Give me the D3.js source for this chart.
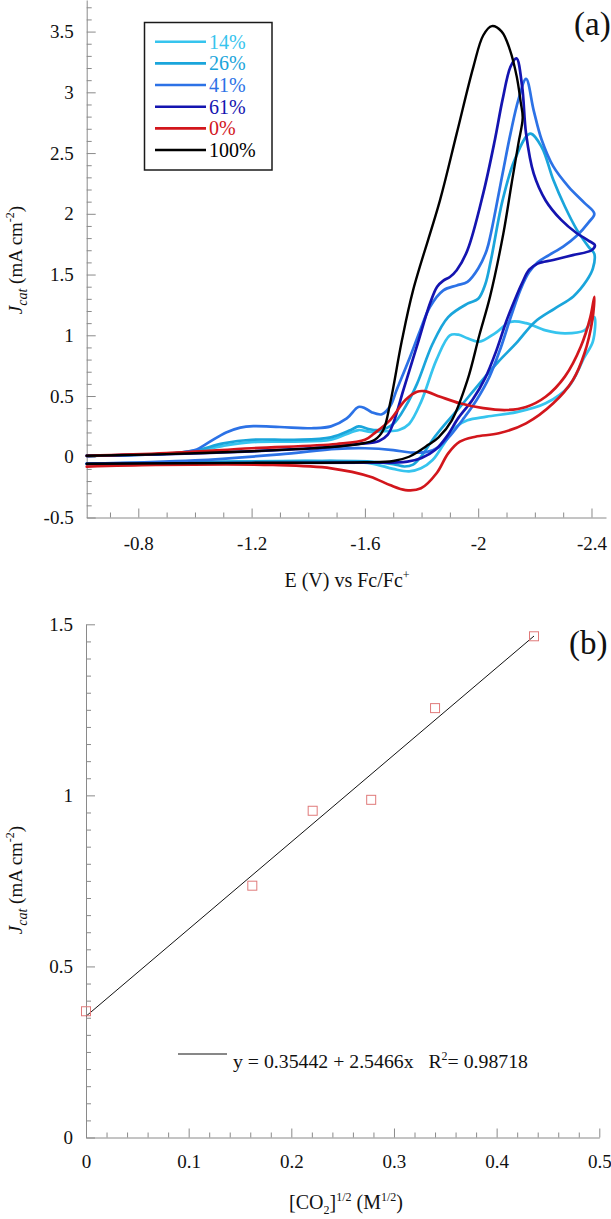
<!DOCTYPE html>
<html><head><meta charset="utf-8">
<script src="https://cdn.jsdelivr.net/npm/d3@7"></script>
<style>
body{margin:0;background:#fff;}
svg{display:block;}
svg text{font-family:"Liberation Serif","Times New Roman",Times,serif !important;}
</style></head><body>
<svg id="c" width="611" height="1219"></svg>
<script>
// ---------- Panel (a) data: cyclic voltammograms [E (V), J (mA cm-2)] ----------
const seriesNames  = ["14%","26%","41%","61%","0%","100%"];
const seriesColors = ["#36c4ee","#1aa5db","#2c72e6","#1414b0","#d2161c","#000000"];

const cv14 = [[-0.618,0.008],[-0.9,0.025],[-1.0,0.045],[-1.1,0.09],[-1.2,0.12],[-1.35,0.125],[-1.48,0.14],[-1.55,0.2],[-1.578,0.22],[-1.62,0.205],[-1.67,0.21],[-1.72,0.22],[-1.756,0.27],[-1.798,0.45],[-1.853,0.80],[-1.90,1.0],[-1.93,1.005],[-1.962,0.975],[-2.004,0.947],[-2.059,1.016],[-2.114,1.11],[-2.169,1.10],[-2.238,1.04],[-2.306,1.016],[-2.375,1.04],[-2.41,1.15],
  [-2.405,0.95],[-2.375,0.82],[-2.32,0.58],[-2.238,0.44],[-2.14,0.37],[-2.03,0.33],[-1.962,0.30],[-1.922,0.247],[-1.88,0.11],[-1.839,-0.027],[-1.798,-0.095],[-1.756,-0.12],[-1.70,-0.10],[-1.62,-0.054],[-1.45,-0.035],[-1.0,-0.045],[-0.618,-0.058]];

const cv26 = [[-0.618,0.008],[-0.9,0.025],[-1.0,0.05],[-1.1,0.11],[-1.2,0.14],[-1.35,0.14],[-1.48,0.16],[-1.55,0.22],[-1.578,0.25],[-1.61,0.23],[-1.65,0.22],[-1.70,0.27],[-1.745,0.42],[-1.784,0.60],[-1.839,0.93],[-1.894,1.15],[-1.962,1.26],[-2.0,1.30],[-2.025,1.42],[-2.045,1.62],[-2.086,2.11],[-2.128,2.44],[-2.183,2.66],[-2.224,2.55],[-2.265,2.28],[-2.306,2.06],[-2.348,1.87],[-2.389,1.73],[-2.41,1.67],
  [-2.405,1.55],[-2.383,1.45],[-2.336,1.32],[-2.27,1.22],[-2.2,1.11],[-2.136,0.94],[-2.07,0.78],[-2.0,0.59],[-1.936,0.41],[-1.88,0.26],[-1.839,0.14],[-1.798,0.0],[-1.77,-0.065],[-1.74,-0.08],[-1.70,-0.06],[-1.62,-0.04],[-1.4,-0.035],[-1.0,-0.045],[-0.618,-0.058]];

const cv41 = [[-0.618,0.008],[-0.9,0.025],[-0.95,0.035],[-1.0,0.055],[-1.05,0.12],[-1.11,0.2],[-1.16,0.24],[-1.206,0.252],[-1.3,0.245],[-1.42,0.235],[-1.48,0.25],[-1.536,0.316],[-1.577,0.41],[-1.60,0.40],[-1.625,0.365],[-1.66,0.35],[-1.69,0.42],[-1.712,0.55],[-1.759,0.82],[-1.795,1.04],[-1.830,1.235],[-1.877,1.37],[-1.924,1.41],[-1.962,1.44],[-2.0,1.55],[-2.030,1.70],[-2.045,1.84],[-2.086,2.33],[-2.114,2.66],[-2.142,2.94],[-2.169,3.11],[-2.196,2.85],[-2.224,2.61],[-2.265,2.39],[-2.320,2.22],[-2.375,2.09],[-2.41,2.0],
  [-2.39,1.93],[-2.348,1.82],[-2.30,1.73],[-2.25,1.66],[-2.21,1.60],[-2.18,1.52],[-2.15,1.38],[-2.115,1.15],[-2.08,0.9],[-2.04,0.66],[-1.995,0.47],[-1.95,0.32],[-1.90,0.17],[-1.86,0.08],[-1.82,0.04],[-1.76,0.035],[-1.70,0.055],[-1.60,0.07],[-1.50,0.065],[-1.3,0.02],[-1.0,-0.03],[-0.618,-0.058]];

const cv61 = [[-0.618,0.008],[-0.9,0.022],[-1.2,0.045],[-1.45,0.075],[-1.58,0.105],[-1.65,0.13],[-1.68,0.18],[-1.70,0.275],[-1.736,0.55],[-1.783,0.906],[-1.830,1.263],[-1.855,1.40],[-1.877,1.45],[-1.90,1.48],[-1.924,1.535],[-1.962,1.70],[-2.018,2.17],[-2.059,2.61],[-2.086,2.94],[-2.114,3.21],[-2.135,3.28],[-2.155,3.05],[-2.169,2.66],[-2.196,2.33],[-2.238,2.11],[-2.293,1.95],[-2.348,1.84],[-2.389,1.78],[-2.412,1.74],
  [-2.40,1.70],[-2.334,1.66],[-2.265,1.62],[-2.21,1.59],[-2.18,1.54],[-2.155,1.43],[-2.136,1.33],[-2.100,1.12],[-2.065,0.88],[-2.025,0.65],[-1.98,0.47],[-1.93,0.32],[-1.89,0.17],[-1.85,0.06],[-1.80,-0.01],[-1.75,-0.04],[-1.6,-0.048],[-1.2,-0.052],[-0.618,-0.058]];

const cv0 = [[-0.618,0.008],[-0.9,0.03],[-1.2,0.07],[-1.5,0.105],[-1.6,0.14],[-1.633,0.193],[-1.688,0.30],[-1.743,0.467],[-1.784,0.535],[-1.81,0.54],[-1.866,0.494],[-1.935,0.44],[-2.018,0.40],[-2.10,0.385],[-2.169,0.41],[-2.238,0.494],[-2.306,0.66],[-2.362,0.906],[-2.396,1.15],[-2.41,1.317],
  [-2.403,1.125],[-2.375,0.85],[-2.334,0.63],[-2.265,0.44],[-2.169,0.275],[-2.073,0.193],[-1.99,0.165],[-1.935,0.124],[-1.894,0.028],[-1.853,-0.136],[-1.798,-0.26],[-1.743,-0.274],[-1.688,-0.233],[-1.619,-0.164],[-1.481,-0.095],[-1.275,-0.068],[-0.862,-0.068],[-0.618,-0.082]];

const cv100 = [[-0.618,0.008],[-0.9,0.022],[-1.2,0.045],[-1.45,0.075],[-1.58,0.105],[-1.635,0.14],[-1.665,0.22],[-1.69,0.45],[-1.73,0.95],[-1.77,1.37],[-1.865,2.11],[-1.924,2.66],[-1.983,3.21],[-2.018,3.47],[-2.048,3.545],[-2.083,3.50],[-2.112,3.35],[-2.136,3.13],[-2.150,2.92],[-2.157,2.79],
  [-2.142,2.58],[-2.118,2.25],[-2.089,1.84],[-2.042,1.32],[-2.004,1.0],[-1.962,0.63],[-1.907,0.30],[-1.86,0.16],[-1.825,0.10],[-1.756,0.0],[-1.70,-0.035],[-1.6,-0.045],[-1.2,-0.05],[-0.618,-0.058]];

const cvSeries = [cv14, cv26, cv41, cv61, cv0, cv100];

const xTicksA = [-0.8, -1.2, -1.6, -2, -2.4];
const xTickLabelsA = ["-0.8", "-1.2", "-1.6", "-2", "-2.4"];
const yTicksA = [-0.5, 0, 0.5, 1, 1.5, 2, 2.5, 3, 3.5];
const yTickLabelsA = ["-0.5", "0", "0.5", "1", "1.5", "2", "2.5", "3", "3.5"];

// ---------- Panel (b) data ----------
const co2Sqrt = [0, 0.162, 0.2208, 0.2778, 0.340, 0.4364];
const jcat    = [0.369, 0.736, 0.955, 0.987, 1.255, 1.465];
const fitIntercept = 0.35442, fitSlope = 2.5466;
const xTicksB = [0, 0.1, 0.2, 0.3, 0.4, 0.5];
const xTickLabelsB = ["0", "0.1", "0.2", "0.3", "0.4", "0.5"];
const yTicksB = [0, 0.5, 1, 1.5];
const yTickLabelsB = ["0", "0.5", "1", "1.5"];

// ---------- drawing ----------
const svg = d3.select("#c");
const AX = "#8a8a8a", TXT = "#111";

function styleAxis(g){
  g.attr("font-family", null);
  g.select(".domain").attr("stroke", AX).attr("stroke-width", 1);
  g.selectAll(".tick line").attr("stroke", AX).attr("stroke-width", 1);
  g.selectAll(".tick text").attr("fill", TXT).attr("font-size", 19);
}
function minorVals(lo, hi, step, majors){
  const n = Math.round((hi - lo) / step);
  const out = [];
  for (let i = 0; i <= n; i++){
    const v = +(lo + i * step).toFixed(4);
    if (!majors.some(m => Math.abs(m - v) < 1e-6)) out.push(v);
  }
  return out;
}

// Panel (a)
const xA = d3.scaleLinear().domain([-0.6178, -2.4512]).range([86.7, 606]);
const yA = d3.scaleLinear().domain([-0.5, 3.76]).range([517.5, 0]);

const gxA = svg.append("g").attr("transform", `translate(0,${yA(-0.5)})`)
  .call(d3.axisBottom(xA).tickValues(xTicksA).tickFormat((d,i)=>xTickLabelsA[i]).tickSize(-9).tickSizeOuter(0).tickPadding(19));
styleAxis(gxA);
const gxAm = svg.append("g").attr("transform", `translate(0,${yA(-0.5)})`)
  .call(d3.axisBottom(xA).tickValues(minorVals(-0.7, -2.4, -0.1, xTicksA)).tickFormat("").tickSize(-5).tickSizeOuter(0));
styleAxis(gxAm); gxAm.select(".domain").remove();

const gyA = svg.append("g").attr("transform", `translate(${xA(-0.6178)},0)`)
  .call(d3.axisLeft(yA).tickValues(yTicksA).tickFormat((d,i)=>yTickLabelsA[i]).tickSize(-9).tickSizeOuter(0).tickPadding(13));
styleAxis(gyA);
const gyAm = svg.append("g").attr("transform", `translate(${xA(-0.6178)},0)`)
  .call(d3.axisLeft(yA).tickValues(minorVals(-0.4, 3.7, 0.1, yTicksA)).tickFormat("").tickSize(-5).tickSizeOuter(0));
styleAxis(gyAm); gyAm.select(".domain").remove();

const lineA = d3.line().x(d => xA(d[0])).y(d => yA(d[1])).curve(d3.curveCatmullRom.alpha(0.5));
svg.append("g").selectAll("path").data(cvSeries).join("path")
  .attr("d", lineA).attr("fill", "none")
  .attr("stroke", (d,i) => seriesColors[i])
  .attr("stroke-width", (d,i) => i === 5 ? 2.4 : 2.7)
  .attr("stroke-linejoin", "round").attr("stroke-linecap", "round");

// legend (a)
const leg = svg.append("g");
leg.append("rect").attr("x", 144.5).attr("y", 22.5).attr("width", 127.5).attr("height", 147.5)
  .attr("fill", "#fff").attr("stroke", "#1a1a1a").attr("stroke-width", 1.5);
seriesNames.forEach((n, i) => {
  const yy = 41.7 + i * 21.67;
  leg.append("line").attr("x1", 155).attr("x2", 206).attr("y1", yy).attr("y2", yy)
    .attr("stroke", seriesColors[i]).attr("stroke-width", 2.6);
  leg.append("text").attr("x", 209).attr("y", yy).attr("dy", "0.35em")
    .attr("font-size", 20).attr("fill", seriesColors[i]).text(n);
});

svg.append("text").attr("x", 574).attr("y", 35).attr("font-size", 33).attr("fill", TXT).text("(a)");

// axis titles (a)
const xtA = svg.append("text").attr("x", 347).attr("y", 587).attr("text-anchor", "middle").attr("font-size", 20).attr("fill", TXT);
xtA.append("tspan").text("E (V) vs Fc/Fc");
xtA.append("tspan").attr("font-size", 12).attr("dy", -8).text("+");

function yTitle(cx, cy){
  const t = svg.append("text").attr("transform", `translate(${cx},${cy}) rotate(-90)`)
    .attr("text-anchor", "middle").attr("font-size", 19).attr("fill", TXT);
  t.append("tspan").attr("font-style", "italic").text("J");
  t.append("tspan").attr("font-style", "italic").attr("font-size", 14).attr("dy", 5).text("cat");
  t.append("tspan").attr("dy", -5).text(" (mA cm");
  t.append("tspan").attr("font-size", 12).attr("dy", -8).text("-2");
  t.append("tspan").attr("dy", 8).text(")");
}
yTitle(22, 260);

// Panel (b)
const xB = d3.scaleLinear().domain([0, 0.5]).range([86, 599.3]);
const yB = d3.scaleLinear().domain([0, 1.5]).range([1137.5, 624.3]);

const gxB = svg.append("g").attr("transform", `translate(0,${yB(0)})`)
  .call(d3.axisBottom(xB).tickValues(xTicksB).tickFormat((d,i)=>xTickLabelsB[i]).tickSize(-9).tickSizeOuter(0).tickPadding(17));
styleAxis(gxB);
const gxBm = svg.append("g").attr("transform", `translate(0,${yB(0)})`)
  .call(d3.axisBottom(xB).tickValues(minorVals(0, 0.5, 0.02, xTicksB)).tickFormat("").tickSize(-5).tickSizeOuter(0));
styleAxis(gxBm); gxBm.select(".domain").remove();

const gyB = svg.append("g").attr("transform", `translate(${xB(0)},0)`)
  .call(d3.axisLeft(yB).tickValues(yTicksB).tickFormat((d,i)=>yTickLabelsB[i]).tickSize(-9).tickSizeOuter(0).tickPadding(13));
styleAxis(gyB);
const gyBm = svg.append("g").attr("transform", `translate(${xB(0)},0)`)
  .call(d3.axisLeft(yB).tickValues(minorVals(0, 1.5, 0.05, yTicksB)).tickFormat("").tickSize(-5).tickSizeOuter(0));
styleAxis(gyBm); gyBm.select(".domain").remove();

// fit line
const fitX = [0, d3.max(co2Sqrt)];
svg.append("line")
  .attr("x1", xB(fitX[0])).attr("y1", yB(fitIntercept + fitSlope * fitX[0]))
  .attr("x2", xB(fitX[1])).attr("y2", yB(fitIntercept + fitSlope * fitX[1]))
  .attr("stroke", "#111").attr("stroke-width", 1);

// points
svg.append("g").selectAll("rect").data(co2Sqrt).join("rect")
  .attr("x", d => xB(d) - 4.5).attr("y", (d,i) => yB(jcat[i]) - 4.5)
  .attr("width", 9).attr("height", 9)
  .attr("fill", "none").attr("stroke", "#e07a7a").attr("stroke-width", 1);

// fit legend
svg.append("line").attr("x1", 178).attr("x2", 227).attr("y1", 1054).attr("y2", 1054).attr("stroke", "#111").attr("stroke-width", 1);
const eq = svg.append("text").attr("x", 233).attr("y", 1068).attr("font-size", 19.8).attr("fill", TXT).attr("xml:space", "preserve");
eq.append("tspan").text(`y = ${fitIntercept} + ${fitSlope}x   R`);
eq.append("tspan").attr("font-size", 12).attr("dy", -8).text("2");
eq.append("tspan").attr("dy", 8).text("= 0.98718");

svg.append("text").attr("x", 569).attr("y", 654).attr("font-size", 33).attr("fill", TXT).text("(b)");

const xtB = svg.append("text").attr("x", 346).attr("y", 1209).attr("text-anchor", "middle").attr("font-size", 20).attr("fill", TXT);
xtB.append("tspan").text("[CO");
xtB.append("tspan").attr("font-size", 12).attr("dy", 5).text("2");
xtB.append("tspan").attr("dy", -5).text("]");
xtB.append("tspan").attr("font-size", 12).attr("dy", -8).text("1/2");
xtB.append("tspan").attr("dy", 8).text(" (M");
xtB.append("tspan").attr("font-size", 12).attr("dy", -8).text("1/2");
xtB.append("tspan").attr("dy", 8).text(")");

yTitle(22, 880);
</script>
</body></html>
